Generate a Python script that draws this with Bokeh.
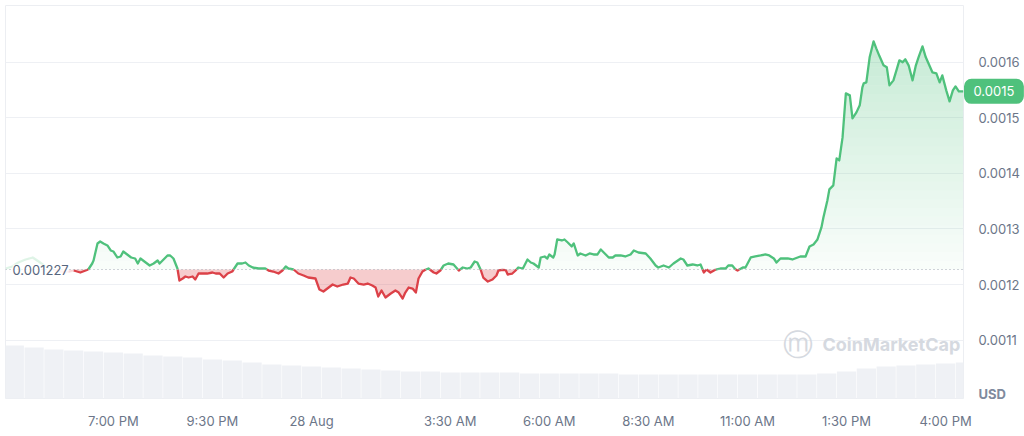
import numpy as np
from bokeh.plotting import figure
from bokeh.models import Range1d, FixedTicker, PrintfTickFormatter, Span, Label
from bokeh.embed import file_html
from bokeh.resources import INLINE

# ---------------- data ----------------
# minutes relative to 00:00 on 28 Aug; price in micro-USD (1e-6 USD)
t_main = [-360, -350, -342, -338, -332, -330, -324, -320, -315, -309, -304, -300, -294, -289, -285,
          -279, -273, -267, -263, -259, -251, -245, -239, -233, -230, -224, -218, -214, -209, -203,
          -200, -195, -191, -186, -180, -176, -171, -165, -158, -150, -145, -139, -133, -127, -120,
          -117, -112, -105, -100, -95, -89, -80, -70, -65, -58, -50, -44, -39, -35, -27,
          -20, -12, -5, 6, 12, 18, 24, 32, 39, 48, 55, 59, 64, 71, 79,
          85, 92, 97, 101, 106, 112, 120, 127, 132, 138, 142, 147, 153, 158, 162,
          168, 173, 177, 185, 189, 195, 200, 207, 215, 223, 229, 236, 241, 247, 251,
          256, 260, 267, 274, 280, 283, 289, 294, 297, 304, 309, 313, 320, 327, 332,
          336, 344, 347, 353, 357, 360, 366, 368, 372, 379, 383, 388, 394, 397, 403,
          407, 415, 421, 427, 433, 438, 444, 450, 456, 460, 468, 475, 483, 488, 495,
          506, 513, 521, 525, 533, 541, 548, 559, 563, 569, 577, 584, 589, 594, 598,
          604, 612, 619, 627, 631, 637, 642, 645, 653, 657, 665, 672, 680, 687, 693,
          700, 704, 710, 721, 728, 736, 740, 748, 754, 760, 766, 772, 775, 781, 784,
          790, 795, 799, 804, 809, 815, 819, 825, 830, 834, 836, 840, 845, 851, 855,
          860, 866, 871, 875, 881, 886, 890, 895, 899, 904, 910, 915, 919, 925, 930,
          934, 940, 946, 951, 955, 961, 966, 971, 975, 980, 987]
p_main = [1225.2, 1221.6, 1225.2, 1227.0, 1237.8, 1243.2, 1273.8, 1277.4, 1273.8, 1270.2, 1261.2, 1259.4, 1248.6, 1250.4, 1259.4,
          1254.0, 1248.6, 1246.8, 1237.8, 1246.8, 1239.6, 1234.2, 1237.8, 1243.2, 1237.8, 1245.0, 1252.2, 1252.2, 1246.8, 1228.8,
          1207.2, 1210.8, 1214.4, 1212.6, 1214.4, 1209.0, 1219.8, 1219.8, 1219.8, 1221.6, 1219.8, 1219.8, 1212.6, 1219.8, 1223.4,
          1228.8, 1237.8, 1237.8, 1239.6, 1234.2, 1230.6, 1228.8, 1228.8, 1225.2, 1223.4, 1219.8, 1225.2, 1232.4, 1228.8, 1227.0,
          1219.8, 1216.2, 1212.6, 1210.8, 1191.0, 1187.4, 1192.8, 1200.0, 1196.4, 1200.0, 1201.8, 1212.6, 1210.8, 1201.8, 1200.0,
          1201.8, 1198.2, 1194.6, 1178.4, 1189.2, 1176.6, 1183.8, 1189.2, 1185.6, 1174.8, 1185.6, 1194.6, 1192.8, 1185.6, 1210.8,
          1223.4, 1227.0, 1228.8, 1221.6, 1219.8, 1225.2, 1234.2, 1237.8, 1236.0, 1225.2, 1230.6, 1228.8, 1230.6, 1241.4, 1239.6,
          1227.0, 1212.6, 1205.4, 1209.0, 1216.2, 1225.2, 1226.5, 1226.0, 1218.0, 1219.8, 1225.2, 1230.6, 1228.8, 1245.0, 1239.6,
          1237.8, 1230.6, 1248.6, 1250.4, 1246.8, 1254.0, 1248.6, 1254.0, 1281.0, 1279.2, 1281.0, 1275.6, 1268.4, 1273.8, 1252.2,
          1255.8, 1252.2, 1255.8, 1254.0, 1254.0, 1263.0, 1255.8, 1248.6, 1248.6, 1252.2, 1252.2, 1250.4, 1254.0, 1261.2, 1257.6,
          1255.8, 1246.8, 1234.2, 1230.6, 1234.2, 1230.6, 1237.8, 1246.8, 1245.0, 1234.2, 1236.0, 1234.2, 1236.0, 1221.6, 1227.0,
          1221.6, 1227.0, 1228.8, 1228.8, 1234.2, 1234.2, 1227.0, 1225.2, 1230.6, 1230.6, 1248.6, 1250.4, 1252.2, 1254.0, 1252.2,
          1246.8, 1239.6, 1246.8, 1246.8, 1245.0, 1248.6, 1250.4, 1250.4, 1268.4, 1272.0, 1281.0, 1302.6, 1320.6, 1351.2, 1371.0,
          1378.2, 1426.8, 1423.2, 1464.6, 1543.8, 1540.2, 1498.8, 1509.6, 1522.2, 1554.6, 1561.8, 1563.6, 1608.6, 1637.4, 1624.8,
          1610.4, 1594.2, 1590.6, 1558.2, 1567.2, 1587.0, 1603.2, 1599.6, 1605.0, 1594.2, 1567.2, 1594.2, 1608.6, 1628.4, 1608.6,
          1597.8, 1581.6, 1579.8, 1563.6, 1576.2, 1549.2, 1529.4, 1549.2, 1556.4, 1547.4, 1547.4]

# faded part before the window
t_ghost = [-463, -453, -444, -433, -422, -413, -403, -388, -372, -360]
p_ghost = [1228.8, 1232.4, 1239.6, 1245.0, 1248.6, 1241.4, 1232.4, 1225.2, 1221.6, 1225.2]

# 30-minute volume bars (arbitrary units)
vol_start, vol_step = -450, 30
volume = [5.3, 5.1, 4.9, 4.8, 4.7, 4.6, 4.5, 4.3, 4.2, 4.1, 3.9, 3.8, 3.6, 3.4, 3.3, 3.2, 3.1, 3.0,
          2.9, 2.8, 2.7, 2.7, 2.6, 2.6, 2.6, 2.6, 2.5, 2.5, 2.5, 2.5, 2.5, 2.4, 2.4, 2.4, 2.4, 2.4,
          2.4, 2.4, 2.4, 2.4, 2.4, 2.5, 2.7, 3.0, 3.2, 3.3, 3.4, 3.5, 3.6]

baseline_price = 0.001227

x_ticks = [-300, -150, 0, 210, 360, 510, 660, 810, 960]
x_tick_labels = ["7:00 PM", "9:30 PM", "28 Aug", "3:30 AM", "6:00 AM", "8:30 AM", "11:00 AM", "1:30 PM", "4:00 PM"]
y_ticks = [0.0011, 0.0012, 0.0013, 0.0014, 0.0015, 0.0016]

# ---------------- styling ----------------
GREEN = "#4fc17c"
RED = "#dc4148"
LABEL = "#6c7689"
GRID = "#eef0f4"

t = np.array(t_main, dtype=float)
price = np.array(p_main) * 1e-6
tg = np.array(t_ghost, dtype=float)
pg = np.array(p_ghost) * 1e-6
vol_t = [vol_start + i * vol_step for i in range(len(volume))]

FW, FH = 958, 393
X0, X1 = -463.3, 987.1
Y0, Y1 = 0.000995, 0.0017018

p = figure(frame_width=FW, frame_height=FH, output_backend="svg", toolbar_location=None,
           x_range=Range1d(X0, X1), y_range=Range1d(Y0, Y1), y_axis_location="right",
           min_border_left=5, min_border_top=5, min_border_right=59, min_border_bottom=36)
p.background_fill_color = "white"
p.border_fill_color = "white"
p.outline_line_color = "#eceef2"
p.xgrid.visible = False
p.ygrid.grid_line_color = GRID
p.ygrid.ticker = FixedTicker(ticks=y_ticks)

# volume
p.extra_y_ranges = {"vol": Range1d(0, 39.3)}
p.vbar(x=vol_t, top=volume, bottom=0, width=vol_step * 0.97, y_range_name="vol",
       fill_color="#eff1f5", line_color=None)


def split_segments(xs, ys, base):
    segs = []
    cx, cy = [xs[0]], [ys[0]]
    above = ys[0] >= base
    for i in range(1, len(xs)):
        x0, y0, x1, y1 = xs[i - 1], ys[i - 1], xs[i], ys[i]
        a = y1 >= base
        if a != above:
            tt = (base - y0) / (y1 - y0)
            xc = x0 + tt * (x1 - x0)
            cx.append(xc); cy.append(base)
            segs.append((cx, cy, above))
            cx, cy = [xc, x1], [base, y1]
            above = a
        else:
            cx.append(x1); cy.append(y1)
    segs.append((cx, cy, above))
    return segs


def draw_series(xs, ys, line_alpha, fill_scale):
    base = baseline_price
    grid = np.union1d(np.linspace(xs.min(), xs.max(), 1600), xs)
    dense = np.interp(grid, xs, ys)
    top = max(price.max(), base + 1e-9)
    n = 26
    levels = np.linspace(base, top, n + 1)
    for k in range(n):
        lo, hi = levels[k], levels[k + 1]
        if dense.max() <= lo:
            break
        upper = np.clip(dense, lo, hi)
        alpha = (0.03 + 0.29 * (k + 0.5) / n) * fill_scale
        p.varea(x=grid, y1=np.full_like(grid, lo), y2=upper, fill_color=GREEN, fill_alpha=alpha)
    segs = split_segments(list(xs), list(ys), base)
    for sx, sy, ab in segs:
        if not ab:
            p.varea(x=sx, y1=[base] * len(sx), y2=sy, fill_color=RED, fill_alpha=0.27 * fill_scale)
    gx = [s[0] for s in segs if s[2]]
    gy = [s[1] for s in segs if s[2]]
    rx = [s[0] for s in segs if not s[2]]
    ry = [s[1] for s in segs if not s[2]]
    if gx:
        p.multi_line(xs=gx, ys=gy, line_color=GREEN, line_width=2.3, line_alpha=line_alpha,
                     line_join="round")
    if rx:
        p.multi_line(xs=rx, ys=ry, line_color=RED, line_width=2.3, line_alpha=line_alpha,
                     line_join="round")


draw_series(tg, pg, 0.18, 0.25)
draw_series(t, price, 1.0, 1.0)

p.add_layout(Span(location=baseline_price, dimension="width", line_color="#a3a8b2",
                  line_dash="1 3", line_width=1))

# axes
p.xaxis.ticker = FixedTicker(ticks=x_ticks)
p.xaxis.major_label_overrides = {k: v for k, v in zip(x_ticks, x_tick_labels)}
p.yaxis.ticker = FixedTicker(ticks=y_ticks)
p.yaxis.formatter = PrintfTickFormatter(format="%.4f")
for ax in (p.xaxis[0], p.yaxis[0]):
    ax.axis_line_color = None
    ax.major_tick_line_color = None
    ax.minor_tick_line_color = None
    ax.major_label_text_color = LABEL
    ax.major_label_text_font = "Inter"
    ax.major_label_text_font_size = "13px"
p.xaxis.major_label_standoff = 8
p.yaxis.major_label_standoff = 9

# labels
p.add_layout(Label(x=X0, y=baseline_price, x_offset=7, text=f"{baseline_price:.6f}",
                   text_align="left", text_baseline="middle", text_font="Inter",
                   text_font_size="13px", text_color="#58667e",
                   background_fill_color="white", background_fill_alpha=0.75))
# current price tag and unit, placed in the right-hand panel (not clipped to the frame)
p.add_layout(Label(x=X1, y=price[-1], x_offset=4,
                   text=f"{price[-1]:.4f}",
                   text_align="left", text_baseline="middle", text_font="Inter",
                   text_font_size="13px", text_color="white",
                   background_fill_color=GREEN, background_fill_alpha=1.0,
                   border_line_color=GREEN, border_line_width=7, border_line_join="round",
                   padding=(6, 4), border_radius=4), "right")
p.add_layout(Label(x=X1, y=Y0, x_offset=15, y_offset=5, text="USD",
                   text_align="left", text_baseline="middle",
                   text_font="Inter", text_font_size="13px",
                   text_font_style="bold", text_color="#808a9d"), "right")
# watermark
p.add_layout(Label(x=(797 - 311) * 1.514, y=0.001093, text="ⓜ", text_align="center",
                   text_baseline="middle", text_font="DejaVu Sans", text_font_size="30px",
                   text_color="#d5d9e0"))
p.add_layout(Label(x=(822 - 311) * 1.514, y=0.001093, text="CoinMarketCap", text_align="left",
                   text_baseline="middle", text_font="Inter", text_font_size="18px",
                   text_font_style="bold", text_color="#d5d9e0"))

open("out.html", "w").write(file_html(p, INLINE))
